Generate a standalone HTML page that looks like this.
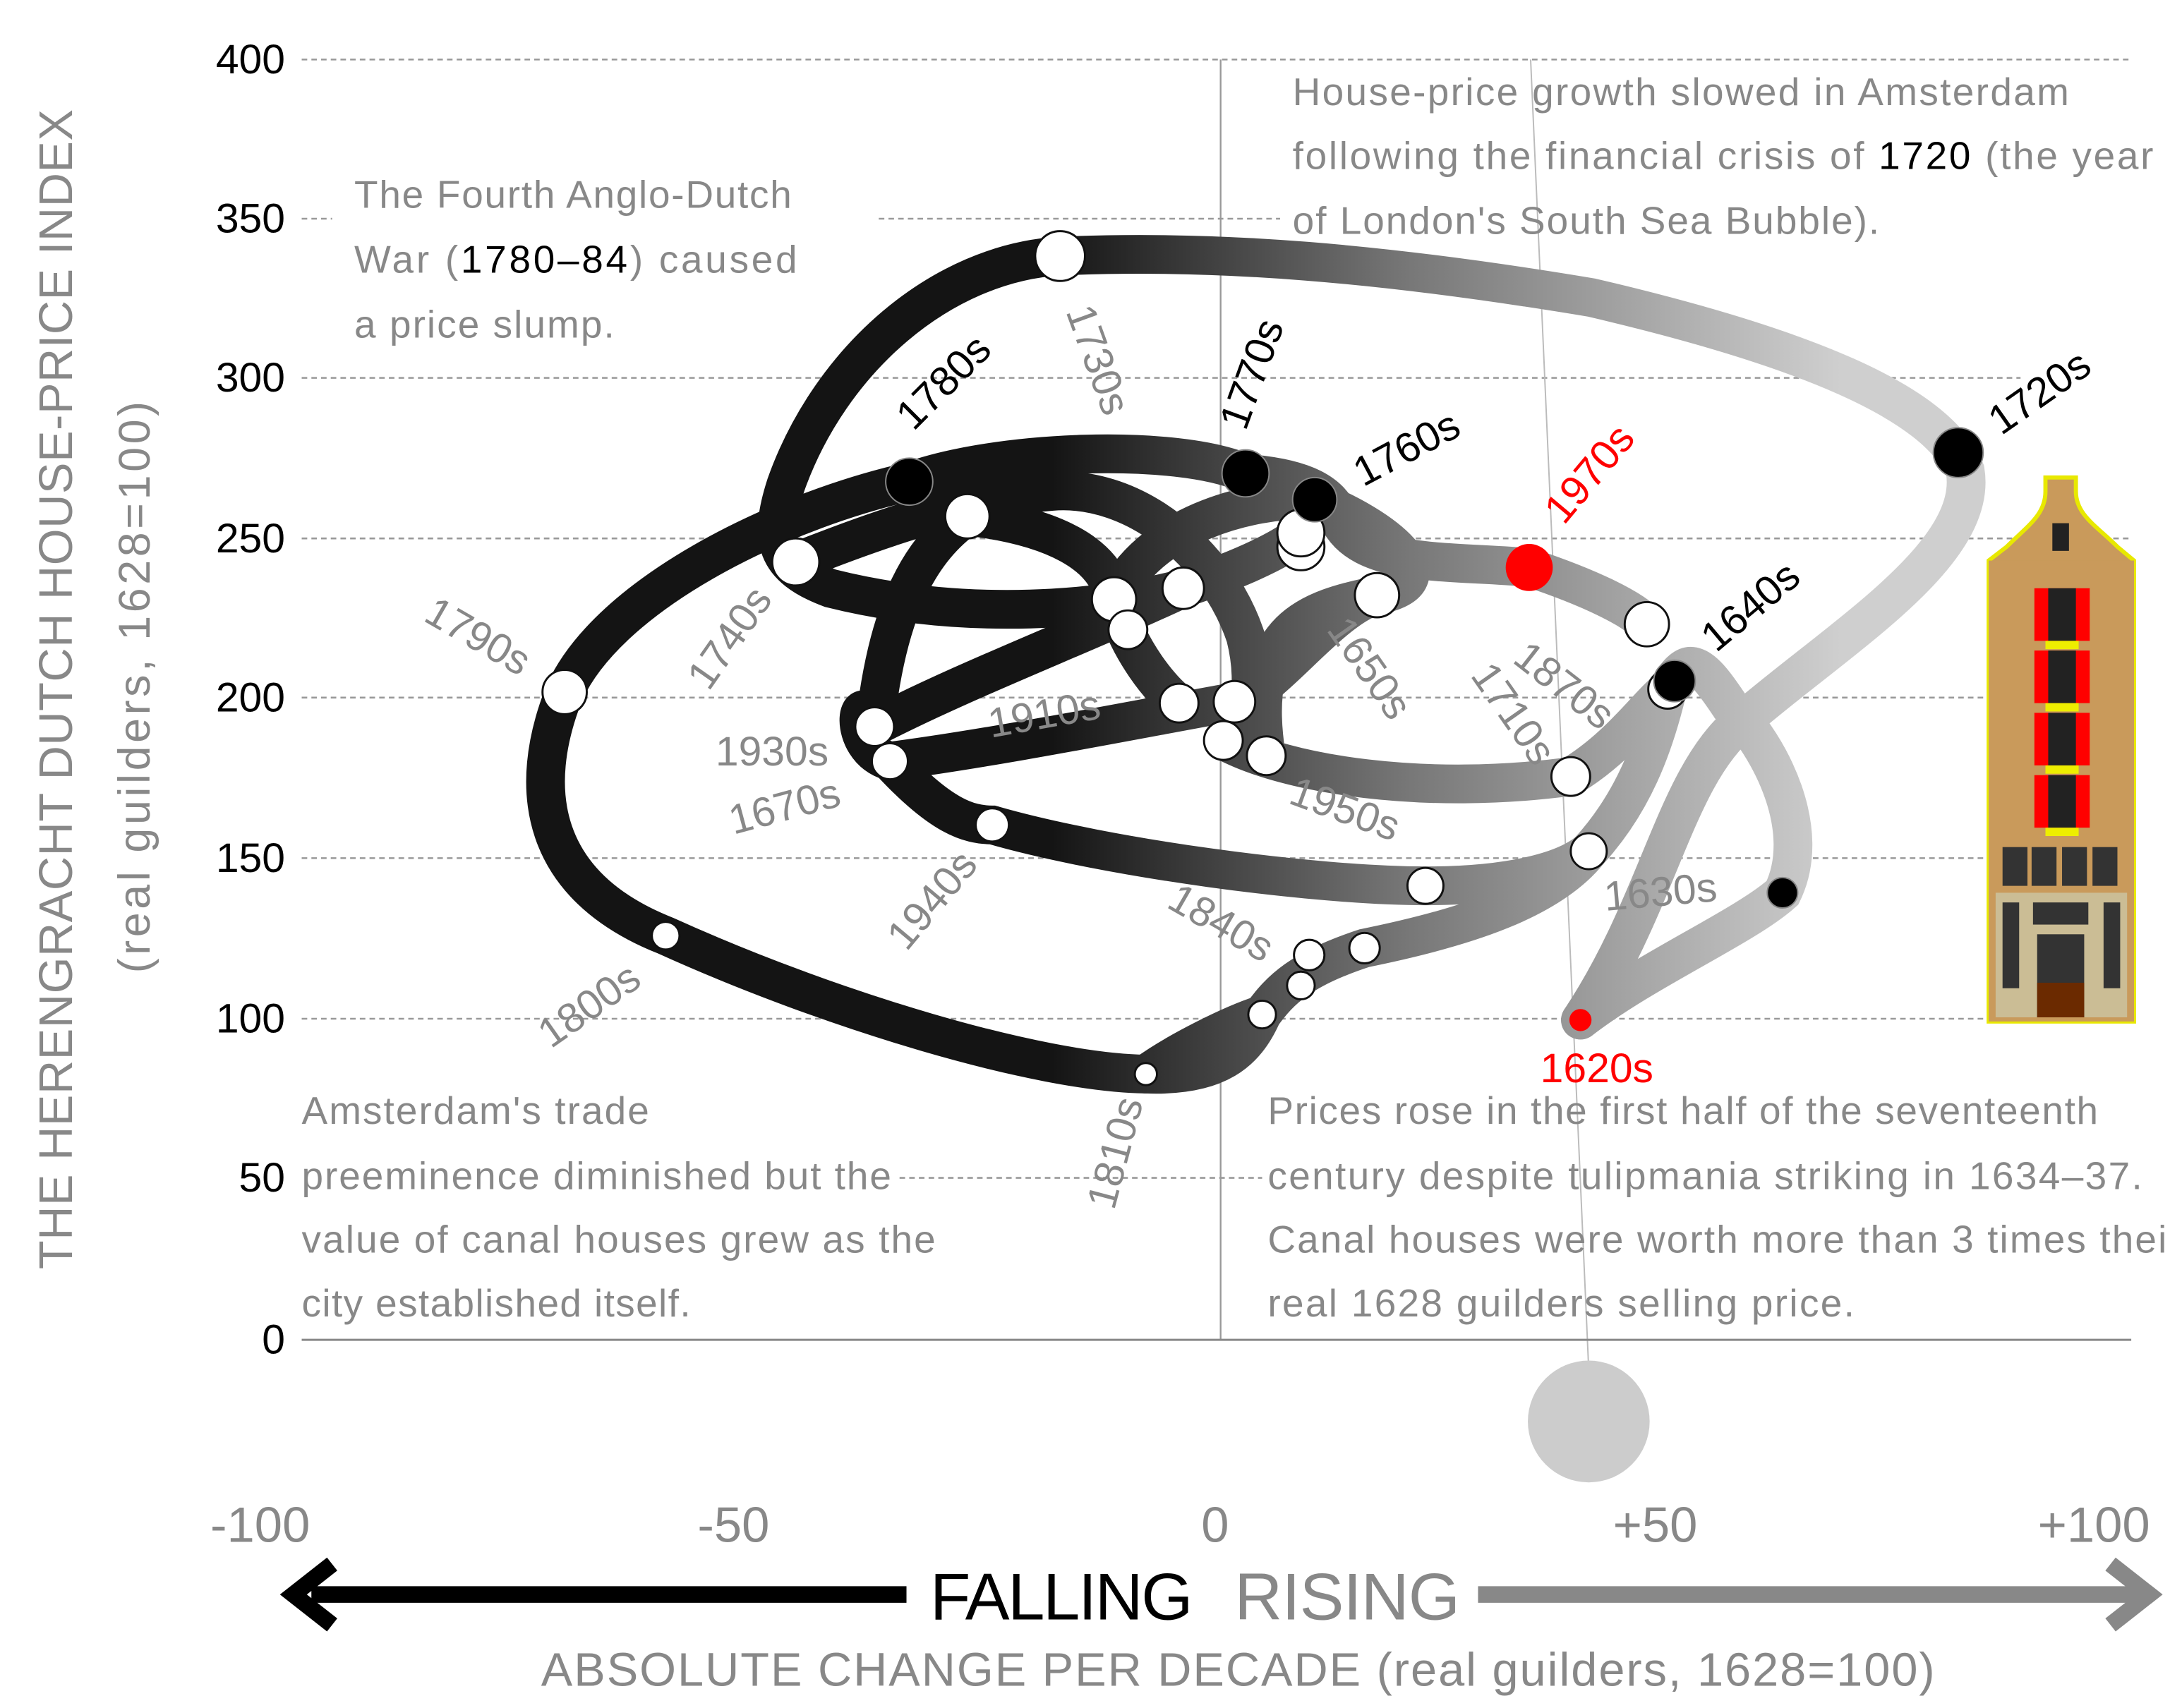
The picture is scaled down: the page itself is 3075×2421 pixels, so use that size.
<!DOCTYPE html>
<html><head><meta charset="utf-8"><style>
html,body{margin:0;padding:0;background:#fff;}
svg{display:block;}
text{font-family:"Liberation Sans",sans-serif;}
</style></head><body>
<svg width="3075" height="2421" viewBox="0 0 1568 1234" preserveAspectRatio="none" xmlns="http://www.w3.org/2000/svg">
<defs>
<linearGradient id="g" gradientUnits="userSpaceOnUse" x1="760" y1="0" x2="1330" y2="0">
<stop offset="0" stop-color="#141414"/><stop offset="0.45" stop-color="#777"/><stop offset="1" stop-color="#cfcfcf"/>
</linearGradient>
</defs>
<rect width="1568" height="1234" fill="#fff"/>
<g stroke="#999" stroke-width="1.3" stroke-dasharray="4,3" fill="none">
<line x1="218" y1="43" x2="1540" y2="43"/>
<line x1="218" y1="158" x2="240" y2="158"/><line x1="635" y1="158" x2="925" y2="158"/>
<line x1="218" y1="273" x2="1460" y2="273"/>
<line x1="218" y1="389" x2="1540" y2="389"/>
<line x1="218" y1="504" x2="1540" y2="504"/>
<line x1="218" y1="620" x2="1540" y2="620"/>
<line x1="218" y1="736" x2="1540" y2="736"/>
<line x1="650" y1="851" x2="912" y2="851"/>
</g>
<line x1="882" y1="43" x2="882" y2="968" stroke="#999" stroke-width="1.2"/>
<line x1="1106" y1="43" x2="1148" y2="990" stroke="#bbb" stroke-width="1"/>
<line x1="218" y1="968" x2="1540" y2="968" stroke="#888" stroke-width="1.5"/>
<circle cx="1148" cy="1027" r="44" fill="#ccc"/>
<g fill="none" stroke="url(#g)" stroke-width="28" stroke-linecap="round">
<path d="M1142,737 C1190,700 1260,670 1288,645 C1310,600 1280,540 1250,510 C1230,480 1220,470 1205,498"/>
<path d="M1142,737 C1200,650 1210,560 1260,520 C1330,460 1430,400 1420,340 C1400,290 1300,250 1150,215 C1000,190 880,180 766,185"/>
<path d="M766,185 C680,190 600,260 568,350 C555,390 560,410 600,425 C700,450 800,440 855,425"/>
<path d="M657,348 C560,370 440,430 408,500 C380,570 390,640 481,676 C600,730 750,775 828,776 C880,778 900,760 912,733 C925,715 940,700 986,685 C1060,670 1120,650 1148,615 C1180,580 1195,540 1205,498"/>
<path d="M657,348 C720,325 850,320 900,342 C940,345 965,355 970,380 C990,410 1050,405 1105,410 C1150,425 1180,440 1190,451"/>
<path d="M699,373 C760,380 800,400 805,433 C815,470 840,500 852,508"/>
<path d="M632,525 C640,450 660,400 699,373"/>
<path d="M632,525 C700,490 780,460 855,425 C900,410 930,395 940,385"/>
<path d="M643,550 C720,540 820,520 892,507 C920,500 960,440 995,430"/>
<path d="M643,550 C610,540 620,490 632,525"/>
<path d="M643,550 C680,590 700,596 717,596 C800,620 950,640 1030,640 C1090,640 1130,630 1148,615"/>
<path d="M884,535 C930,560 1030,575 1135,561 C1170,540 1190,510 1205,498"/>
<path d="M805,433 C830,380 900,360 950,361 C1000,380 1050,420 995,430 C950,440 900,450 915,546"/>
<path d="M575,406 C640,380 700,360 760,355 C820,350 880,400 900,460 C910,500 900,530 884,535"/>
<path d="M828,776 C850,760 890,740 912,733"/>
</g>
<g fill="#fff" stroke="#111" stroke-width="1.5">
<circle cx="766" cy="185" r="18"/><circle cx="699" cy="373" r="16"/><circle cx="575" cy="406" r="17"/>
<circle cx="408" cy="500" r="16"/><circle cx="481" cy="676" r="10"/><circle cx="828" cy="776" r="8"/>
<circle cx="912" cy="733" r="10"/><circle cx="940" cy="712" r="10"/><circle cx="946" cy="690" r="11"/>
<circle cx="986" cy="685" r="11"/><circle cx="1030" cy="640" r="13"/><circle cx="1148" cy="615" r="13"/>
<circle cx="1135" cy="561" r="14"/><circle cx="1205" cy="498" r="14"/><circle cx="1190" cy="451" r="16"/>
<circle cx="995" cy="430" r="16"/><circle cx="940" cy="395" r="17"/><circle cx="940" cy="385" r="17"/>
<circle cx="855" cy="425" r="15"/><circle cx="805" cy="433" r="16"/><circle cx="815" cy="455" r="14"/>
<circle cx="852" cy="508" r="14"/><circle cx="892" cy="507" r="15"/><circle cx="884" cy="535" r="14"/>
<circle cx="915" cy="546" r="14"/><circle cx="717" cy="596" r="12"/><circle cx="632" cy="525" r="14"/>
<circle cx="643" cy="550" r="13"/>
</g>
<g fill="#000" stroke="#888" stroke-width="1">
<circle cx="657" cy="348" r="17"/><circle cx="900" cy="342" r="17"/><circle cx="950" cy="361" r="16"/>
<circle cx="1210" cy="492" r="15"/><circle cx="1415" cy="327" r="18"/><circle cx="1288" cy="645" r="11"/>
</g>
<circle cx="1105" cy="410" r="17" fill="#f00"/><circle cx="1142" cy="737" r="8" fill="#f00"/>
<g>
<path d="M1437,405 L1450,395 C1465,380 1478,372 1478,355 L1478,345 L1500,345 L1500,355 C1500,372 1515,380 1530,395 L1542,405 L1542,738 L1437,738 Z" fill="#c99a5b" stroke="#e8e800" stroke-width="3"/>
<rect x="1437" y="405" width="105" height="333" fill="#c99a5b"/>
<rect x="1483" y="378" width="12" height="20" fill="#222"/>
<g fill="#f00"><rect x="1470" y="425" width="40" height="38"/><rect x="1470" y="470" width="40" height="38"/><rect x="1470" y="515" width="40" height="38"/><rect x="1470" y="560" width="40" height="38"/></g>
<g fill="#222"><rect x="1480" y="425" width="20" height="38"/><rect x="1480" y="470" width="20" height="38"/><rect x="1480" y="515" width="20" height="38"/><rect x="1480" y="560" width="20" height="38"/></g>
<g fill="#ee0"><rect x="1478" y="463" width="24" height="6"/><rect x="1478" y="508" width="24" height="6"/><rect x="1478" y="553" width="24" height="6"/><rect x="1478" y="598" width="24" height="6"/></g>
<g fill="#333"><rect x="1447" y="612" width="18" height="28"/><rect x="1468" y="612" width="18" height="28"/><rect x="1490" y="612" width="18" height="28"/><rect x="1512" y="612" width="18" height="28"/></g>
<rect x="1442" y="645" width="95" height="90" fill="#cbbd95"/>
<rect x="1447" y="652" width="12" height="62" fill="#333"/><rect x="1520" y="652" width="12" height="62" fill="#333"/>
<rect x="1469" y="652" width="40" height="16" fill="#333"/><rect x="1472" y="675" width="34" height="60" fill="#333"/>
<rect x="1472" y="710" width="34" height="25" fill="#6b2a00"/>
</g>
<g font-size="30" fill="#000" text-anchor="end">
<text x="206" y="53">400</text><text x="206" y="168">350</text><text x="206" y="283">300</text>
<text x="206" y="399">250</text><text x="206" y="514">200</text><text x="206" y="630">150</text>
<text x="206" y="746">100</text><text x="206" y="861">50</text><text x="206" y="978">0</text>
</g>
<g font-size="36" fill="#888" text-anchor="middle">
<text x="188" y="1114">-100</text><text x="530" y="1114">-50</text><text x="878" y="1114">0</text>
<text x="1196" y="1114">+50</text><text x="1513" y="1114">+100</text>
</g>
<line x1="225" y1="1152" x2="655" y2="1152" stroke="#000" stroke-width="12"/>
<polyline points="240,1130 212,1152 240,1174" fill="none" stroke="#000" stroke-width="12"/>
<line x1="1068" y1="1152" x2="1545" y2="1152" stroke="#888" stroke-width="12"/>
<polyline points="1525,1130 1553,1152 1525,1174" fill="none" stroke="#888" stroke-width="12"/>
<text x="672" y="1170" font-size="48" fill="#000" textLength="190">FALLING</text>
<text x="892" y="1170" font-size="48" fill="#888" textLength="163">RISING</text>
<text x="391" y="1218" font-size="34" fill="#888" textLength="1007">ABSOLUTE CHANGE PER DECADE (real guilders, 1628=100)</text>
<text transform="translate(52,917) rotate(-90)" font-size="34" fill="#888" textLength="838">THE HERENGRACHT DUTCH HOUSE-PRICE INDEX</text>
<text transform="translate(108,703) rotate(-90)" font-size="32" fill="#888" textLength="413">(real guilders, 1628=100)</text>
<g font-size="28" fill="#888">
<text x="256" y="150" textLength="316">The Fourth Anglo-Dutch</text>
<text x="256" y="197" textLength="320">War (<tspan fill="#000">1780–84</tspan>) caused</text>
<text x="256" y="244" textLength="188">a price slump.</text>
<text x="934" y="76" textLength="561">House-price growth slowed in Amsterdam</text>
<text x="934" y="122" textLength="622">following the financial crisis of <tspan fill="#000">1720</tspan> (the year</text>
<text x="934" y="169" textLength="424">of London's South Sea Bubble).</text>
<text x="218" y="812" textLength="251">Amsterdam's trade</text>
<text x="218" y="859" textLength="426">preeminence diminished but the</text>
<text x="218" y="905" textLength="458">value of canal houses grew as the</text>
<text x="218" y="951" textLength="281">city established itself.</text>
<text x="916" y="812" textLength="600">Prices rose in the first half of the seventeenth</text>
<text x="916" y="859" textLength="632">century despite tulipmania striking in 1634–37.</text>
<text x="916" y="905" textLength="660">Canal houses were worth more than 3 times their</text>
<text x="916" y="951" textLength="424">real 1628 guilders selling price.</text>
</g>
<g font-size="30">
<text transform="translate(660,312) rotate(-45)" fill="#000">1780s</text>
<text transform="translate(770,225) rotate(70)" fill="#888">1730s</text>
<text transform="translate(900,312) rotate(-70)" fill="#000">1770s</text>
<text transform="translate(985,352) rotate(-28)" fill="#000">1760s</text>
<text transform="translate(1130,380) rotate(-50)" fill="#f00">1970s</text>
<text transform="translate(1446,315) rotate(-35)" fill="#000">1720s</text>
<text transform="translate(1240,472) rotate(-40)" fill="#000">1640s</text>
<text transform="translate(305,448) rotate(30)" fill="#888">1790s</text>
<text transform="translate(512,500) rotate(-55)" fill="#888">1740s</text>
<text transform="translate(716,533) rotate(-10)" fill="#888">1910s</text>
<text x="517" y="553" fill="#888">1930s</text>
<text transform="translate(530,603) rotate(-15)" fill="#888">1670s</text>
<text transform="translate(958,455) rotate(55)" fill="#888">1650s</text>
<text transform="translate(1092,478) rotate(38)" fill="#888">1870s</text>
<text transform="translate(1062,488) rotate(55)" fill="#888">1710s</text>
<text transform="translate(930,580) rotate(20)" fill="#888">1950s</text>
<text transform="translate(655,688) rotate(-50)" fill="#888">1940s</text>
<text transform="translate(842,655) rotate(30)" fill="#888">1840s</text>
<text transform="translate(1160,658) rotate(-5)" fill="#888">1630s</text>
<text transform="translate(398,758) rotate(-35)" fill="#888">1800s</text>
<text transform="translate(805,875) rotate(-75)" fill="#888">1810s</text>
<text x="1113" y="782" fill="#f00">1620s</text>
</g>
</svg>
</body></html>
